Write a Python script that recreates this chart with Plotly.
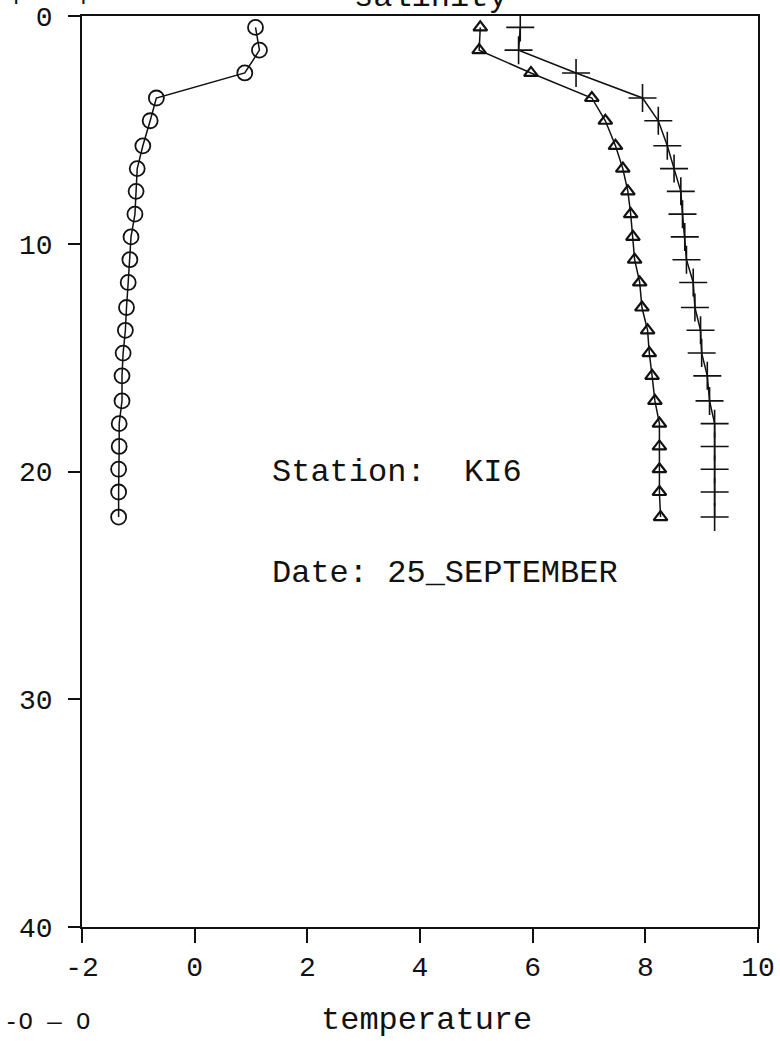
import plotly.graph_objects as go

# depth (m) of each sample
depth = [0.5, 1.5, 2.5, 3.6, 4.6, 5.7, 6.7, 7.7, 8.7, 9.7, 10.7,
         11.7, 12.8, 13.8, 14.8, 15.8, 16.9, 17.9, 18.9, 19.9, 20.9, 22.0]

# temperature profile (circles)
temperature = [1.08, 1.15, 0.89, -0.68, -0.79, -0.92, -1.02, -1.04, -1.06, -1.13, -1.15,
               -1.18, -1.21, -1.23, -1.27, -1.29, -1.29, -1.34, -1.34, -1.35, -1.35, -1.35]

# triangle profile (read on the temperature axis scale)
triangle_profile = [5.07, 5.05, 5.97, 7.05, 7.29, 7.47, 7.60, 7.69, 7.74, 7.78, 7.81,
                    7.90, 7.94, 8.04, 8.07, 8.12, 8.17, 8.25, 8.25, 8.25, 8.25, 8.27]

# salinity profile (crosses, read on the temperature axis scale)
salinity_profile = [5.78, 5.75, 6.77, 7.95, 8.23, 8.39, 8.51, 8.63, 8.66, 8.70, 8.73,
                    8.85, 8.88, 8.98, 9.00, 9.10, 9.14, 9.23, 9.23, 9.23, 9.23, 9.23]

x_ticks = [-2, 0, 2, 4, 6, 8, 10]
y_ticks = [0, 10, 20, 30, 40]

FONT = "Liberation Mono"
BLACK = "#111111"

fig = go.Figure()

fig.add_trace(go.Scatter(
    x=temperature, y=depth, mode="lines+markers",
    line=dict(color=BLACK, width=1.5),
    marker=dict(symbol="circle-open", size=15, color=BLACK, line=dict(width=1.8, color=BLACK)),
    showlegend=False))

fig.add_trace(go.Scatter(
    x=triangle_profile, y=depth, mode="lines+markers",
    line=dict(color=BLACK, width=1.5),
    marker=dict(symbol="triangle-up-open", size=12, color=BLACK, line=dict(width=2.2, color=BLACK)),
    showlegend=False))

fig.add_trace(go.Scatter(
    x=salinity_profile, y=depth, mode="lines+markers",
    line=dict(color=BLACK, width=1.5),
    marker=dict(symbol="cross-thin-open", size=20, color=BLACK, line=dict(width=1.6, color=BLACK)),
    showlegend=False))

anno_font = dict(family=FONT, size=32, color=BLACK)

annotations = [
    dict(x=1.33, y=20.05, xref="x", yref="y", text="Station:\u00a0\u00a0KI6",
         showarrow=False, xanchor="left", yanchor="middle", font=anno_font),
    dict(x=1.33, y=24.5, xref="x", yref="y", text="Date: 25_SEPTEMBER",
         showarrow=False, xanchor="left", yanchor="middle", font=anno_font),
    dict(x=0.516, y=1.0, yshift=19, xref="paper", yref="paper", text="salinity",
         showarrow=False, xanchor="center", yanchor="middle", font=anno_font),
    dict(x=0.509, y=0.0, yshift=-93, xref="paper", yref="paper", text="temperature",
         showarrow=False, xanchor="center", yanchor="middle", font=anno_font),
    dict(x=0.0, xshift=10, y=0.0, yshift=-95, xref="paper", yref="paper", text="-O\u00a0\u2014\u00a0O",
         showarrow=False, xanchor="right", yanchor="middle", font=dict(family=FONT, size=24, color=BLACK)),
    dict(x=0.0, xshift=12, y=1.0, yshift=18, xref="paper", yref="paper", text="-+\u00a0\u2014\u00a0+",
         showarrow=False, xanchor="right", yanchor="middle", font=dict(family=FONT, size=28, color=BLACK)),
]

fig.update_layout(
    width=780, height=1041,
    margin=dict(l=82, r=22, t=16, b=114),
    paper_bgcolor="white", plot_bgcolor="white",
    font=dict(family=FONT, size=26, color=BLACK),
    annotations=annotations,
    xaxis=dict(range=[-2, 10], tickvals=x_ticks, ticktext=[str(v) for v in x_ticks],
               automargin=False,
               showgrid=False, zeroline=False, showline=True, mirror=True,
               linecolor=BLACK, linewidth=1.5, ticks="outside", ticklen=14,
               tickwidth=1.5, tickcolor=BLACK, ticklabelstandoff=0,
               tickfont=dict(family=FONT, size=28, color=BLACK)),
    yaxis=dict(range=[40, 0], tickvals=y_ticks, ticktext=[str(v) for v in y_ticks],
               automargin=False,
               showgrid=False, zeroline=False, showline=True, mirror=True,
               linecolor=BLACK, linewidth=1.5, ticks="outside", ticklen=12,
               tickwidth=1.5, tickcolor=BLACK, ticklabelstandoff=10,
               tickfont=dict(family=FONT, size=28, color=BLACK)),
)

fig.write_html("out.html", config={"displayModeBar": False},
               post_script="document.body.style.margin='0';")
